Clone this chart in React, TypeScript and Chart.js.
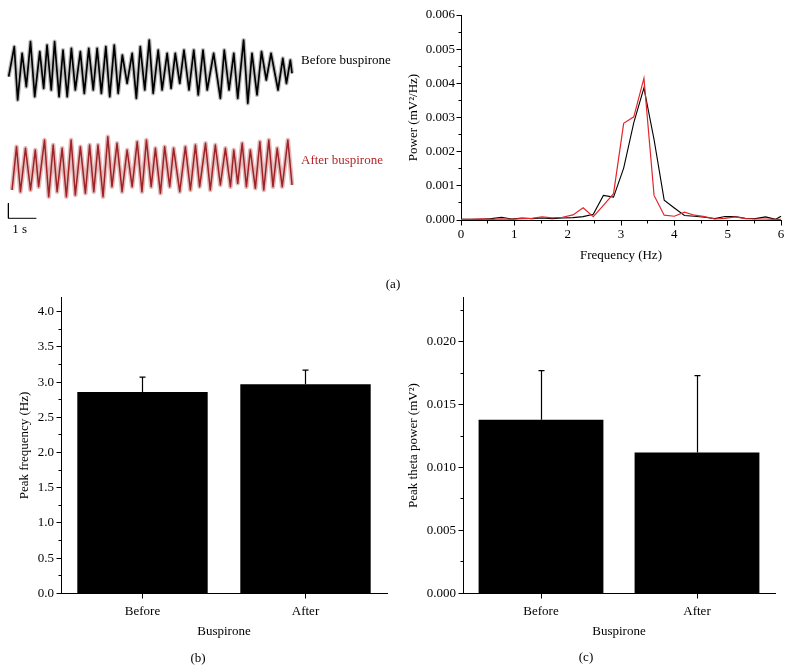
import React, { useEffect, useRef } from "react";
import { Chart, registerables } from "chart.js";

Chart.register(...registerables);

const FONT = "'Liberation Serif', 'Times New Roman', Times, serif";

// ---------- (a) EEG traces: time (s) and amplitude (a.u.) ----------
const beforeTime = [0.01, 0.21, 0.33, 0.49, 0.64, 0.79, 0.94, 1.12, 1.26, 1.38, 1.53, 1.65, 1.81, 1.95, 2.10, 2.25, 2.39, 2.57, 2.71, 2.87, 3.03, 3.17, 3.32, 3.48, 3.62, 3.78, 3.92, 4.07, 4.24, 4.42, 4.57, 4.71, 4.87, 5.03, 5.17, 5.35, 5.49, 5.67, 5.81, 5.96, 6.12, 6.27, 6.45, 6.62, 6.78, 6.95, 7.10, 7.33, 7.57, 7.71, 7.88, 8.05, 8.19, 8.40, 8.55, 8.70, 8.88, 9.04, 9.21, 9.38, 9.63, 9.80, 9.93, 10.07, 10.13];
const beforeAmp = [-6.7, 23.3, -30, 16.7, -16.7, 28.3, -26.7, 18.3, -18.3, 25, -20, 28.3, -26.7, 20, -26.7, 21.7, -20, 18.3, -23.3, 21.7, -20, 21.7, -23.3, 23.3, -26.7, 25, -23.3, 15, -13.3, 16.7, -28.3, 23.3, -20, 30, -23.3, 20, -20, 16.7, -18.3, 16.7, -13.3, 20, -20, 20, -25, 20, -20, 16.7, -28.3, 20, -20, 16.7, -28.3, 30, -33.3, 16.7, -25, 18.3, -10, 16.7, -20, 11.7, -13.3, 10, -3.3];
const afterTime = [0.13, 0.29, 0.43, 0.61, 0.79, 0.96, 1.08, 1.29, 1.44, 1.60, 1.74, 1.92, 2.07, 2.24, 2.39, 2.57, 2.75, 2.90, 3.05, 3.20, 3.38, 3.55, 3.70, 3.88, 4.06, 4.24, 4.42, 4.60, 4.77, 4.93, 5.10, 5.25, 5.43, 5.58, 5.76, 5.90, 6.12, 6.32, 6.50, 6.68, 6.83, 7.04, 7.21, 7.39, 7.57, 7.75, 7.93, 8.05, 8.19, 8.35, 8.50, 8.64, 8.82, 8.98, 9.12, 9.30, 9.45, 9.60, 9.78, 9.98, 10.13];
const afterAmp = [-23, 20.3, -24.7, 18.7, -23, 17, -19.7, 27, -29.7, 22, -24.7, 18.7, -29.7, 27, -28, 20.3, -26.3, 22, -24.7, 22, -29.7, 30.3, -19.7, 23.7, -24.7, 17, -19.7, 25.3, -24.7, 27, -19.7, 18.7, -26.3, 20.3, -19.7, 18.7, -24.7, 20.3, -23, 22, -19.7, 23.7, -23, 22, -18, 18.7, -19.7, 17, -16.3, 23.7, -19.7, 17, -21.3, 25.3, -23, 27, -19.7, 18.7, -19.7, 27, -18];
const scaleBarTime = [0, 0, 1];
const scaleBarAmp = [15, 0, 0];

// ---------- (a) power spectrum ----------
const freqHz = [0, 0.19, 0.38, 0.57, 0.76, 0.95, 1.14, 1.33, 1.52, 1.71, 1.9, 2.1, 2.29, 2.48, 2.67, 2.86, 3.05, 3.24, 3.43, 3.62, 3.81, 4.0, 4.19, 4.38, 4.57, 4.76, 4.95, 5.14, 5.33, 5.52, 5.71, 5.9, 6.0];
const powerBefore = [0.00002, 0.00002, 0.00002, 0.00004, 0.00008, 0.00003, 0.00006, 0.00004, 0.00006, 0.00004, 0.00006, 0.00007, 0.0001, 0.00017, 0.00072, 0.00067, 0.00152, 0.00285, 0.00387, 0.00235, 0.00058, 0.00035, 0.00013, 0.00011, 0.00008, 0.00004, 0.0001, 0.0001, 0.00005, 0.00004, 0.00009, 0.00002, 0.00011];
const powerAfter = [0.00002, 0.00002, 0.00003, 0.00002, 0.00003, 0.00002, 0.00004, 0.00005, 0.00009, 0.00006, 0.00008, 0.00015, 0.00036, 0.0001, 0.00043, 0.00077, 0.00283, 0.00302, 0.00415, 0.00072, 0.00014, 0.00011, 0.00023, 0.00014, 0.0001, 0.00003, 0.00005, 0.00009, 0.00004, 0.00003, 0.00003, 0.00002, 0.00002];

// ---------- (b), (c) bars ----------
const groups = ["Before", "After"];
const peakFreqHz = [2.86, 2.97];
const peakFreqSem = [0.21, 0.2];
const peakPower = [0.0138, 0.0112];
const peakPowerSem = [0.0039, 0.0061];

const tickFont = { family: FONT, size: 13 };
const titleFont = { family: FONT, size: 13 };

const alignPx = (p: number) => Math.round(p - 0.5) + 0.5;

const axisTicksPlugin = {
  id: "axisTicks",
  afterDraw(chart: any, _args: any, opts: any) {
    const ctx = chart.ctx;
    ctx.save();
    ctx.strokeStyle = "#000";
    ctx.lineWidth = 1;
    const axes = opts.axes || {};
    for (const id of Object.keys(axes)) {
      const scale = chart.scales[id];
      const cfg = axes[id];
      const horizontal = scale.isHorizontal();
      const draw = (p: number, len: number) => {
        const q = alignPx(p);
        ctx.beginPath();
        if (horizontal) {
          const y = alignPx(scale.top);
          ctx.moveTo(q, y);
          ctx.lineTo(q, y + len);
        } else {
          const x = alignPx(scale.right);
          ctx.moveTo(x, q);
          ctx.lineTo(x - len, q);
        }
        ctx.stroke();
      };
      scale.ticks.forEach((_t: any, i: number) => draw(scale.getPixelForTick(i), cfg.major));
      if (cfg.minorStep) {
        const n = Math.floor((scale.max - scale.min) / cfg.minorStep + 1e-6);
        for (let k = 0; k <= n; k++) {
          const v = scale.min + k * cfg.minorStep;
          if (scale.ticks.some((t: any) => Math.abs(t.value - v) < cfg.minorStep * 0.01)) continue;
          draw(scale.getPixelForValue(v), cfg.minor);
        }
      }
    }
    ctx.restore();
  },
};

const errorBarPlugin = {
  id: "errorBars",
  afterDatasetsDraw(chart: any, _args: any, opts: any) {
    const ctx = chart.ctx;
    const meta = chart.getDatasetMeta(0);
    const values = chart.data.datasets[0].data as number[];
    const yScale = chart.scales.y;
    ctx.save();
    ctx.strokeStyle = "#000";
    ctx.lineWidth = 1.2;
    meta.data.forEach((bar: any, i: number) => {
      const x = alignPx(bar.x);
      const yErr = yScale.getPixelForValue(values[i] + opts.errors[i]);
      ctx.beginPath();
      ctx.moveTo(x, bar.y);
      ctx.lineTo(x, yErr);
      ctx.moveTo(x - 3, yErr);
      ctx.lineTo(x + 3, yErr);
      ctx.stroke();
    });
    ctx.restore();
  },
};

const textPlugin = {
  id: "labels",
  afterDraw(chart: any, _args: any, opts: any) {
    const ctx = chart.ctx;
    ctx.save();
    ctx.font = `13px ${FONT}`;
    ctx.textBaseline = "alphabetic";
    ctx.textAlign = "left";
    for (const t of opts.items || []) {
      ctx.fillStyle = t.color;
      ctx.fillText(t.text, t.x, t.y);
    }
    ctx.restore();
  },
};

const axisBase = {
  grid: { display: false, drawTicks: false },
  border: { display: true, color: "#000", width: 1 },
};

function makeTraceConfig(): any {
  const BEFORE_BASE = 170;
  const AFTER_BASE = 73;
  const BAR_BASE = 21.7;
  const line = { pointRadius: 0, tension: 0, fill: false, borderJoinStyle: "round", clip: false };
  const beforeData = beforeTime.map((t, i) => ({ x: t, y: BEFORE_BASE + beforeAmp[i] }));
  const afterData = afterTime.map((t, i) => ({ x: t, y: AFTER_BASE + afterAmp[i] }));
  return {
    type: "line",
    data: {
      datasets: [
        { ...line, data: scaleBarTime.map((t, i) => ({ x: t, y: BAR_BASE + scaleBarAmp[i] })), borderColor: "#000", borderWidth: 1, borderJoinStyle: "miter" },
        { ...line, data: beforeData, borderColor: "#000", borderWidth: 1.7 },
        { ...line, data: beforeData, borderColor: "rgba(90,90,90,0.4)", borderWidth: 4.2 },
        { ...line, data: afterData, borderColor: "#9e2226", borderWidth: 1.5 },
        { ...line, data: afterData, borderColor: "rgba(200,120,120,0.5)", borderWidth: 4.5 },
      ],
    },
    options: {
      responsive: false,
      animation: false,
      events: [],
      layout: { padding: 0 },
      plugins: {
        legend: { display: false },
        tooltip: { enabled: false },
        labels: {
          items: [
            { text: "Before buspirone", x: 301, y: 63.5, color: "#000" },
            { text: "After buspirone", x: 301, y: 163.5, color: "#b3262a" },
            { text: "1 s", x: 12.3, y: 233.3, color: "#000" },
          ],
        },
      },
      scales: {
        x: { type: "linear", display: false, min: -0.3, max: 13.9857 },
        y: { type: "linear", display: false, min: 0, max: 240 },
      },
    },
    plugins: [textPlugin],
  };
}

function makeSpectrumConfig(): any {
  const line = { pointRadius: 0, tension: 0, fill: false, clip: 4 };
  return {
    type: "line",
    data: {
      datasets: [
        { ...line, label: "After", data: freqHz.map((f, i) => ({ x: f, y: powerAfter[i] })), borderColor: "#e3262b", borderWidth: 1.2 },
        { ...line, label: "Before", data: freqHz.map((f, i) => ({ x: f, y: powerBefore[i] })), borderColor: "#000", borderWidth: 1.1 },
      ],
    },
    options: {
      responsive: false,
      animation: false,
      events: [],
      layout: { padding: { top: 15, right: 11, left: 0, bottom: 0 } },
      plugins: {
        legend: { display: false },
        tooltip: { enabled: false },
        axisTicks: { axes: { x: { major: 5, minor: 3, minorStep: 0.5 }, y: { major: 5, minor: 3, minorStep: 0.0005 } } },
      },
      scales: {
        x: {
          ...axisBase,
          type: "linear",
          min: 0,
          max: 6,
          afterFit: (s: any) => { s.height = 50; },
          ticks: { stepSize: 1, padding: 7, color: "#000", font: tickFont, maxRotation: 0, autoSkip: false },
          title: { display: true, text: "Frequency (Hz)", color: "#000", font: titleFont, padding: { top: 0, bottom: 7 } },
        },
        y: {
          ...axisBase,
          type: "linear",
          min: 0,
          max: 0.006,
          afterFit: (s: any) => { s.width = 61; s.paddingTop = 0; s.paddingBottom = 0; },
          ticks: { stepSize: 0.001, padding: 6, color: "#000", font: tickFont, callback: (v: any) => Number(v).toFixed(3) },
          title: { display: true, text: "Power (mV²/Hz)", color: "#000", font: titleFont, padding: { top: 6, bottom: 0 } },
        },
      },
    },
    plugins: [axisTicksPlugin],
  };
}

function makeBarConfig(p: {
  values: number[]; errors: number[]; max: number; step: number; minorStep: number; digits: number;
  yWidth: number; yTitle: string; yTitlePad: number; padTop: number; padRight: number;
}): any {
  return {
    type: "bar",
    data: {
      labels: groups,
      datasets: [{ data: p.values, backgroundColor: "#000", borderWidth: 0, barPercentage: 0.8, categoryPercentage: 1.0 }],
    },
    options: {
      responsive: false,
      animation: false,
      events: [],
      layout: { padding: { top: p.padTop, right: p.padRight, left: 0, bottom: 0 } },
      plugins: {
        legend: { display: false },
        tooltip: { enabled: false },
        errorBars: { errors: p.errors },
        axisTicks: { axes: { x: { major: 5 }, y: { major: 5, minor: 3, minorStep: p.minorStep } } },
      },
      scales: {
        x: {
          ...axisBase,
          afterFit: (s: any) => { s.height = 76.7; },
          ticks: { padding: 10, color: "#000", font: tickFont, maxRotation: 0 },
          title: { display: true, text: "Buspirone", color: "#000", font: titleFont, padding: { top: 0, bottom: 30.5 } },
        },
        y: {
          ...axisBase,
          type: "linear",
          min: 0,
          max: p.max,
          afterFit: (s: any) => { s.width = p.yWidth; s.paddingTop = 0; s.paddingBottom = 0; },
          ticks: { stepSize: p.step, includeBounds: false, padding: 7, color: "#000", font: tickFont, callback: (v: any) => Number(v).toFixed(p.digits) },
          title: { display: true, text: p.yTitle, color: "#000", font: titleFont, padding: { top: p.yTitlePad, bottom: 0 } },
        },
      },
    },
    plugins: [errorBarPlugin, axisTicksPlugin],
  };
}

function ChartBox(props: { left: number; top: number; width: number; height: number; make: () => any }) {
  const ref = useRef<HTMLCanvasElement>(null);
  useEffect(() => {
    const chart = new Chart(ref.current as HTMLCanvasElement, props.make());
    return () => chart.destroy();
  }, []);
  return (
    <div style={{ position: "absolute", left: props.left, top: props.top, width: props.width, height: props.height }}>
      <canvas ref={ref} width={props.width} height={props.height} style={{ display: "block", width: props.width, height: props.height }} />
    </div>
  );
}

function PanelLetter(props: { text: string; x: number; y: number }) {
  return (
    <div
      style={{
        position: "absolute", left: props.x, top: props.y, transform: "translate(-50%, -50%)",
        fontFamily: FONT, fontSize: 13, lineHeight: "15px", color: "#000", whiteSpace: "nowrap",
      }}
    >
      {props.text}
    </div>
  );
}

export default function App() {
  return (
    <div style={{ position: "absolute", left: 0, top: 0, width: 792, height: 671, background: "#fff", overflow: "hidden" }}>
      <ChartBox left={0} top={0} width={400} height={240} make={makeTraceConfig} />
      <ChartBox left={400} top={0} width={392} height={270} make={makeSpectrumConfig} />
      <ChartBox
        left={0} top={290} width={400} height={380}
        make={() => makeBarConfig({
          values: peakFreqHz, errors: peakFreqSem, max: 4.2, step: 0.5, minorStep: 0.25, digits: 1,
          yWidth: 61, yTitle: "Peak frequency (Hz)", yTitlePad: 16.7, padTop: 7.6, padRight: 13,
        })}
      />
      <ChartBox
        left={396} top={290} width={396} height={380}
        make={() => makeBarConfig({
          values: peakPower, errors: peakPowerSem, max: 0.0235, step: 0.005, minorStep: 0.0025, digits: 3,
          yWidth: 67, yTitle: "Peak theta power (mV²)", yTitlePad: 9.5, padTop: 7.7, padRight: 17,
        })}
      />
      <PanelLetter text="(a)" x={393} y={283} />
      <PanelLetter text="(b)" x={198} y={656.5} />
      <PanelLetter text="(c)" x={586} y={655.5} />
    </div>
  );
}
